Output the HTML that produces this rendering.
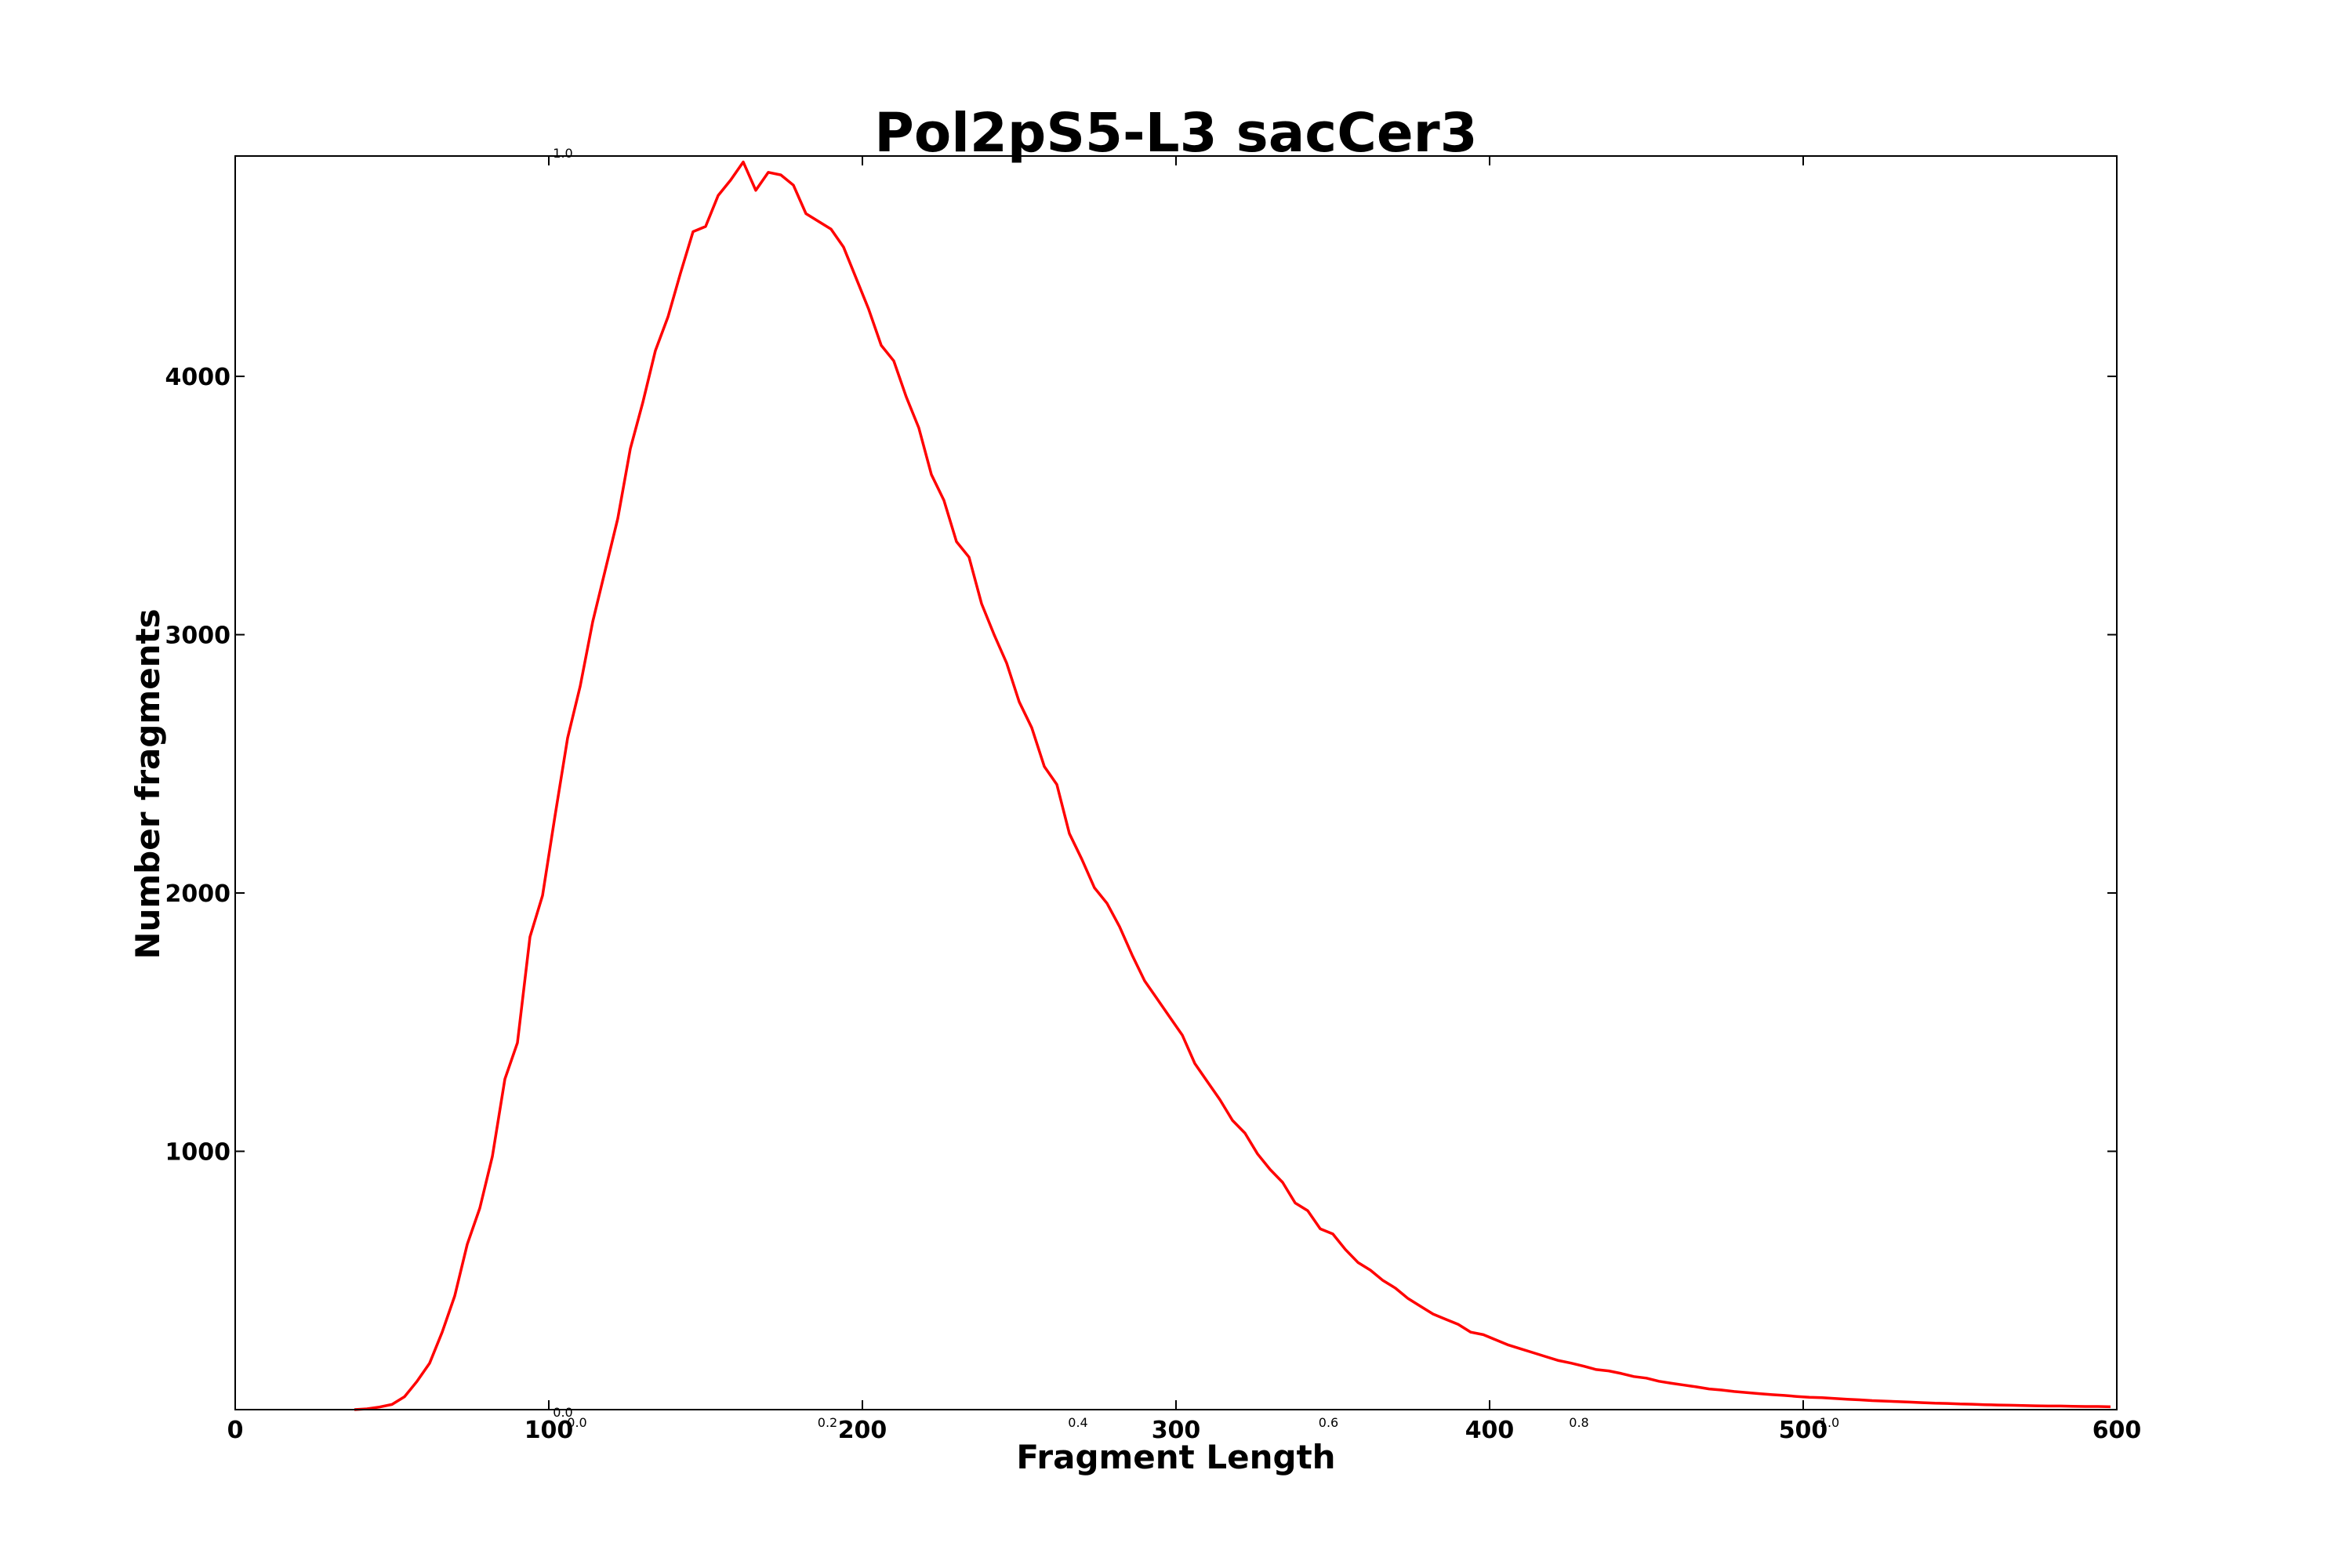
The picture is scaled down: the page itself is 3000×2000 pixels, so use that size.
<!DOCTYPE html>
<html><head><meta charset="utf-8"><style>
html,body{margin:0;padding:0;background:#fff;}
svg{display:block;font-family:"DejaVu Sans","Liberation Sans",sans-serif;}
</style></head><body>
<svg id="chart" width="3000" height="2000" viewBox="0 0 3000 2000" xmlns="http://www.w3.org/2000/svg">
<rect width="3000" height="2000" fill="#fff"/>
<text x="1500" y="193" text-anchor="middle" font-size="69" font-weight="bold">Pol2pS5-L3 sacCer3</text>
<text x="1500" y="1873" text-anchor="middle" font-size="42" font-weight="bold">Fragment Length</text>
<text transform="translate(203,1000) rotate(-90)" text-anchor="middle" font-size="42" font-weight="bold">Number fragments</text>
<g id="ticks"></g>
<g id="overlay"></g>
<path id="line" fill="none" stroke="#ff0000" stroke-width="3.5" stroke-linejoin="round"/>
<rect x="300" y="199" width="2400" height="1599" fill="none" stroke="#000" stroke-width="2"/>
</svg>
<script>
const lengths = [38,42,46,50,54,58,62,66,70,74,78,82,86,90,94,98,102,106,110,114,118,122,126,130,134,138,142,146,150,154,158,162,166,170,174,178,182,186,190,194,198,202,206,210,214,218,222,226,230,234,238,242,246,250,254,258,262,266,270,274,278,282,286,290,294,298,302,306,310,314,318,322,326,330,334,338,342,346,350,354,358,362,366,370,374,378,382,386,390,394,398,402,406,410,414,418,422,426,430,434,438,442,446,450,454,458,462,466,470,474,478,482,486,490,494,498,502,506,510,514,518,522,526,530,534,538,542,546,550,554,558,562,566,570,574,578,582,586,590,594,598];
const counts = [0,3,10,20,50,110,180,300,440,640,780,980,1280,1420,1830,1990,2300,2600,2800,3050,3250,3450,3720,3900,4100,4230,4400,4560,4580,4700,4760,4830,4720,4790,4780,4740,4630,4600,4570,4500,4380,4260,4120,4060,3920,3800,3620,3520,3360,3300,3120,3000,2890,2740,2640,2490,2420,2230,2130,2020,1960,1870,1760,1660,1590,1520,1450,1340,1270,1200,1120,1070,990,930,880,800,770,700,680,620,570,540,500,470,430,400,370,350,330,300,290,270,250,235,220,205,190,180,168,155,150,140,128,122,110,102,95,88,80,76,70,66,62,58,55,51,48,46,43,40,38,35,33,31,29,27,25,24,22,21,19,18,17,16,15,14,14,13,12,12,11];
const xTicks = [0,100,200,300,400,500,600];
const yTicks = [1000,2000,3000,4000];
const overlayTicks = ["0.0","0.2","0.4","0.6","0.8","1.0"];

const L=300,R=2700,T=199,B=1798,XMAX=600,YMAX=4853;
const sx=v=>L+(v/XMAX)*(R-L);
const sy=v=>B-(v/YMAX)*(B-T);
const NS="http://www.w3.org/2000/svg";
const tg=document.getElementById('ticks');
function mk(tag,attrs,parent,txt){const e=document.createElementNS(NS,tag);for(const k in attrs)e.setAttribute(k,attrs[k]);if(txt!==undefined)e.textContent=txt;parent.appendChild(e);return e;}

xTicks.forEach(v=>{
  const x=sx(v);
  const t1=mk('line',{x1:x,y1:B,x2:x,y2:B-12,stroke:'#000','stroke-width':2},tg);
  
  
  const t2=mk('line',{x1:x,y1:T,x2:x,y2:T+12,stroke:'#000','stroke-width':2},tg);
  
  
  const lb=mk('text',{x:x,y:B+36,'text-anchor':'middle','font-size':30,'font-weight':'bold'},tg,String(v));
  
  
});
yTicks.forEach(v=>{
  const y=sy(v);
  const t1=mk('line',{x1:L,y1:y,x2:L+12,y2:y,stroke:'#000','stroke-width':2},tg);
  
  
  const t2=mk('line',{x1:R,y1:y,x2:R-12,y2:y,stroke:'#000','stroke-width':2},tg);
  
  
  const lb=mk('text',{x:L-6,y:y+11,'text-anchor':'end','font-size':30,'font-weight':'bold'},tg,String(v));
  
  
});
const og=document.getElementById('overlay');
overlayTicks.forEach((s,i)=>{
  const x=736+i*319.5;
  const lb=mk('text',{x:x,y:1820,'text-anchor':'middle','font-size':16},og,s);
  
  
});
[["0.0",1807],["1.0",201]].forEach(([s,y])=>{
  const lb=mk('text',{x:718,y:y,'text-anchor':'middle','font-size':16},og,s);
  
  
});

let d='';
lengths.forEach((v,i)=>{d+=(i?'L':'M')+sx(v).toFixed(1)+','+sy(counts[i]).toFixed(1);});
document.getElementById('line').setAttribute('d',d);
</script>
</body></html>
